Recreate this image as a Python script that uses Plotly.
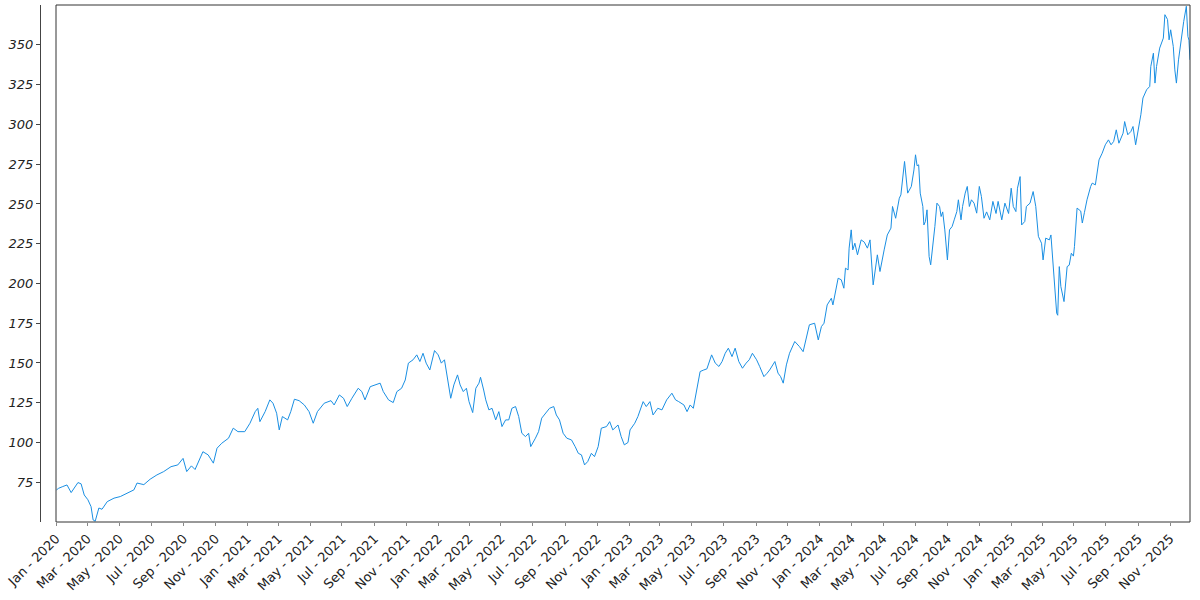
import plotly.graph_objects as go

dates = [
"2020-01-02","2020-01-06","2020-01-14","2020-01-22","2020-01-30","2020-02-06","2020-02-12","2020-02-18","2020-02-24","2020-03-02",
"2020-03-08","2020-03-12","2020-03-16","2020-03-23","2020-03-29","2020-04-08","2020-04-21","2020-05-03","2020-05-16","2020-05-29",
"2020-06-04","2020-06-17","2020-06-29","2020-07-12","2020-07-25","2020-08-08","2020-08-21","2020-08-31","2020-09-07","2020-09-16",
"2020-09-23","2020-09-29","2020-10-08","2020-10-18","2020-10-28","2020-11-04","2020-11-13","2020-11-26","2020-12-05","2020-12-14",
"2020-12-27","2021-01-06","2021-01-16","2021-01-21","2021-01-25","2021-02-04","2021-02-13","2021-02-19","2021-02-26","2021-03-03",
"2021-03-09","2021-03-19","2021-03-25","2021-04-01","2021-04-10","2021-04-20","2021-04-29","2021-05-07","2021-05-15","2021-05-28",
"2021-06-10","2021-06-16","2021-06-26","2021-07-04","2021-07-11","2021-07-20","2021-08-01","2021-08-08","2021-08-14","2021-08-24",
"2021-09-02","2021-09-12","2021-09-18","2021-09-28","2021-10-07","2021-10-14","2021-10-23","2021-10-30","2021-11-05","2021-11-14",
"2021-11-21","2021-11-27","2021-12-03","2021-12-09","2021-12-16","2021-12-25","2022-01-01","2022-01-07","2022-01-13","2022-01-20",
"2022-01-25","2022-01-31","2022-02-07","2022-02-12","2022-02-18","2022-02-24","2022-03-01","2022-03-08","2022-03-14","2022-03-20",
"2022-03-23","2022-03-29","2022-04-02","2022-04-08","2022-04-14","2022-04-21","2022-04-27","2022-05-03","2022-05-10","2022-05-16",
"2022-05-22","2022-05-29","2022-06-04","2022-06-10","2022-06-17","2022-06-23","2022-06-27","2022-07-06","2022-07-12","2022-07-18",
"2022-07-25","2022-08-02","2022-08-10","2022-08-15","2022-08-21","2022-08-28","2022-09-04","2022-09-13","2022-09-20","2022-09-26",
"2022-10-02","2022-10-08","2022-10-14","2022-10-21","2022-10-27","2022-11-03","2022-11-09","2022-11-19","2022-11-25","2022-12-01",
"2022-12-11","2022-12-17","2022-12-23","2022-12-30","2023-01-03","2023-01-12","2023-01-18","2023-01-28","2023-02-03","2023-02-10",
"2023-02-16","2023-02-25","2023-03-05","2023-03-14","2023-03-24","2023-03-31","2023-04-06","2023-04-16","2023-04-22","2023-04-28",
"2023-05-04","2023-05-11","2023-05-17","2023-05-24","2023-05-30","2023-06-08","2023-06-15","2023-06-22","2023-06-28","2023-07-04",
"2023-07-10","2023-07-17","2023-07-23","2023-07-30","2023-08-06","2023-08-13","2023-08-19","2023-08-25","2023-09-02","2023-09-08",
"2023-09-16","2023-09-22","2023-09-27","2023-10-07","2023-10-13","2023-10-18","2023-10-23","2023-10-29","2023-11-04","2023-11-14",
"2023-11-23","2023-11-30","2023-12-06","2023-12-12","2023-12-22","2023-12-29","2024-01-04","2024-01-09","2024-01-15","2024-01-23",
"2024-01-26","2024-01-31","2024-02-05","2024-02-11","2024-02-16","2024-02-19","2024-02-24","2024-02-26","2024-03-01","2024-03-04",
"2024-03-08","2024-03-13","2024-03-20","2024-03-26","2024-04-01","2024-04-06","2024-04-12","2024-04-20","2024-04-25","2024-05-03",
"2024-05-09","2024-05-16","2024-05-19","2024-05-25","2024-06-01","2024-06-04","2024-06-11","2024-06-17","2024-06-24","2024-06-29",
"2024-07-02","2024-07-05","2024-07-08","2024-07-11","2024-07-16","2024-07-18","2024-07-21","2024-07-24","2024-07-26","2024-07-28",
"2024-07-31","2024-08-05","2024-08-08","2024-08-12","2024-08-17","2024-08-20","2024-08-23","2024-08-27","2024-09-01","2024-09-05",
"2024-09-10","2024-09-14","2024-09-19","2024-09-22","2024-09-27","2024-09-30","2024-10-05","2024-10-09","2024-10-13","2024-10-17",
"2024-10-22","2024-10-27","2024-11-01","2024-11-05","2024-11-10","2024-11-15","2024-11-21","2024-11-27","2024-12-03","2024-12-07",
"2024-12-14","2024-12-20","2024-12-27","2025-01-01","2025-01-05","2025-01-10","2025-01-13","2025-01-18","2025-01-21","2025-01-27",
"2025-01-30","2025-02-06","2025-02-12","2025-02-17","2025-02-22","2025-02-28","2025-03-03","2025-03-08","2025-03-15","2025-03-18",
"2025-03-22","2025-03-26","2025-03-29","2025-03-31","2025-04-03","2025-04-06","2025-04-09","2025-04-12","2025-04-18","2025-04-22",
"2025-04-26","2025-04-30","2025-05-02","2025-05-07","2025-05-14","2025-05-17","2025-05-21","2025-05-26","2025-06-02","2025-06-05",
"2025-06-11","2025-06-18","2025-06-24","2025-06-30","2025-07-06","2025-07-11","2025-07-16","2025-07-21","2025-07-26","2025-08-03",
"2025-08-06","2025-08-12","2025-08-18","2025-08-22","2025-08-27","2025-09-01","2025-09-06","2025-09-10","2025-09-17","2025-09-23",
"2025-09-25","2025-09-30","2025-10-03","2025-10-06","2025-10-12","2025-10-19","2025-10-22","2025-10-27","2025-10-30","2025-11-02",
"2025-11-07","2025-11-10","2025-11-13","2025-11-17","2025-11-22","2025-11-27","2025-12-02","2025-12-05","2025-12-07","2025-12-09",
]

prices = [
70.2,71.2,72.3,73.3,68.5,72.0,74.8,74.0,67.0,64.0,
59.7,51.3,50.5,58.8,58.0,62.8,65.0,66.0,68.0,70.2,
74.5,73.5,76.9,79.6,81.7,84.8,85.9,90.0,81.7,85.3,
83.0,88.0,94.2,92.2,87.0,96.4,99.5,102.7,109.0,106.8,
106.8,112.1,119.4,121.5,113.1,119.4,126.8,124.7,118.4,107.9,
116.3,114.2,119.4,127.2,126.3,123.6,119.4,112.1,119.4,124.7,
126.3,123.6,129.9,127.8,122.6,127.8,134.1,132.0,126.8,135.1,
136.2,137.3,132.0,126.8,125.1,132.0,134.1,139.3,149.9,152.0,
155.1,150.9,156.1,149.9,145.6,157.8,155.1,149.9,152.0,137.3,
127.8,136.2,142.5,136.2,132.0,134.1,125.7,118.8,134.1,137.3,
141.0,133.0,126.8,120.5,121.5,114.2,119.4,110.0,114.2,114.2,
121.5,122.6,116.3,105.8,103.7,105.8,97.4,102.7,106.8,115.3,
118.4,121.5,122.6,117.3,114.2,105.8,102.7,101.6,97.4,93.2,
92.2,85.9,88.0,93.2,91.1,97.4,109.0,110.0,113.1,107.9,
111.0,103.7,98.5,100.0,107.9,112.1,116.3,125.7,122.6,125.7,
117.3,121.5,120.5,126.8,131.0,126.8,125.7,123.6,119.4,123.6,
121.5,133.1,144.6,145.6,146.3,155.1,149.9,147.8,150.9,156.1,
159.3,154.0,159.3,150.9,146.7,149.9,152.0,156.1,152.0,147.7,
141.4,143.5,145.6,150.9,143.6,141.4,137.3,148.8,156.1,163.5,
160.3,157.1,166.6,174.0,175.0,164.5,172.9,175.0,186.5,190.7,
186.5,193.9,203.3,202.3,197.0,209.6,208.5,222.2,233.7,221.1,
225.3,218.0,227.4,226.0,222.2,227.4,199.1,218.0,207.5,221.1,
230.5,234.8,248.4,241.0,253.6,255.7,276.7,256.8,261.0,271.4,
280.9,274.0,274.6,256.8,248.4,236.8,239.0,246.3,229.0,216.9,
211.7,225.3,235.8,250.5,248.4,242.1,245.0,233.7,214.8,233.7,
235.8,240.0,245.2,252.6,240.0,248.4,256.8,261.0,248.4,252.6,
250.5,244.2,261.0,254.7,241.0,245.0,240.0,251.6,244.0,251.6,
240.0,250.5,244.0,259.9,248.4,245.2,259.9,267.2,236.8,239.0,
248.4,250.5,257.8,248.4,229.6,225.3,214.8,228.5,227.4,230.5,
212.8,200.2,181.3,180.0,210.6,198.0,192.0,188.6,210.6,211.5,
219.0,217.2,223.2,247.4,245.5,238.0,244.5,252.6,261.0,263.1,
262.0,277.7,281.9,287.2,290.3,287.2,289.3,296.6,288.2,294.5,
301.8,293.5,295.6,298.7,287.2,295.6,306.1,316.6,321.8,323.9,
336.4,344.8,326.0,336.4,348.0,354.3,369.0,366.0,353.2,359.5,
349.0,334.3,326.0,340.6,353.2,364.8,374.3,355.3,353.0,340.6,
]

y_ticks = [75, 100, 125, 150, 175, 200, 225, 250, 275, 300, 325, 350]
y_tick_text = [f"<i>{v}</i>" for v in y_ticks]

fig = go.Figure()
fig.add_trace(go.Scatter(
    x=dates, y=prices, mode="lines",
    line=dict(color="#1a8fe3", width=1),
    hoverinfo="x+y", showlegend=False,
))

W, H = 1200, 600
ml, mr, mt, mb = 40, 10, 5, 78
plot_w = W - ml - mr
x_start = (56 - ml) / plot_w

fig.update_layout(
    width=W, height=H,
    margin=dict(l=ml, r=mr, t=mt, b=mb, autoexpand=False),
    paper_bgcolor="white", plot_bgcolor="white",
    font=dict(family="DejaVu Sans", size=13, color="#222"),
    xaxis=dict(
        type="date",
        domain=[x_start, 1],
        range=["2020-01-01", dates[-1]],
        tickmode="linear", tick0="2020-01-01", dtick="M2",
        tickformat="%b - %Y", tickangle=-45,
        ticks="outside", ticklen=3, tickcolor="#888",
        showgrid=False, zeroline=False, showline=False,
        automargin=False,
        tickfont=dict(family="DejaVu Sans", size=13, color="#222"),
    ),
    yaxis=dict(
        anchor="free", position=0,
        range=[min(prices) - 0.5, max(prices) + 0.8],
        tickmode="array", tickvals=y_ticks, ticktext=y_tick_text,
        ticks="outside", ticklen=4, tickcolor="#444",
        showline=True, linecolor="#444", linewidth=1,
        showgrid=False, zeroline=False,
        automargin=False,
        tickfont=dict(family="DejaVu Sans", size=13, color="#222", style="italic"),
    ),
    shapes=[dict(
        type="rect", xref="x domain", yref="y domain",
        x0=0, x1=1, y0=0, y1=1,
        line=dict(color="#333", width=1), fillcolor="rgba(0,0,0,0)", layer="above",
    )],
)

fig.write_html(
    "out.html",
    config={"displayModeBar": False},
    post_script="document.body.style.margin='0';",
)
